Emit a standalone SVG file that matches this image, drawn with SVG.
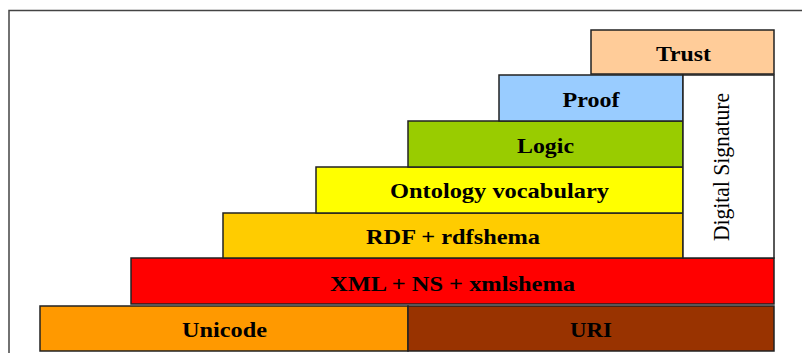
<svg xmlns="http://www.w3.org/2000/svg" width="802" height="353" viewBox="0 0 802 353">
<style>
.b{stroke:#222;stroke-width:1.5}
.t{font-family:"Liberation Serif",serif;font-weight:bold;font-size:21px;fill:#000;text-anchor:middle}
.v{font-family:"Liberation Serif",serif;font-size:24px;fill:#000;text-anchor:middle}
</style>
<rect width="802" height="353" fill="#fff"/>
<path d="M9 360 V10.5 H805" fill="none" stroke="#444" stroke-width="1.5"/>
<g id="unicode"><rect class="b" x="40" y="306" width="368" height="45" fill="#FF9900"/><text class="t" x="224.5" y="337" textLength="85" lengthAdjust="spacingAndGlyphs">Unicode</text></g>
<g id="uri"><rect class="b" x="408" y="306" width="366" height="45" fill="#993300"/><text class="t" x="591" y="337" textLength="42" lengthAdjust="spacingAndGlyphs">URI</text></g>
<g id="xml"><rect class="b" x="131" y="258" width="643" height="46" fill="#FF0000"/><text class="t" x="452.5" y="290.5" textLength="245" lengthAdjust="spacingAndGlyphs">XML + NS + xmlshema</text></g>
<g id="rdf"><rect class="b" x="223" y="213" width="460" height="45" fill="#FFCC00"/><text class="t" x="453" y="244" textLength="174" lengthAdjust="spacingAndGlyphs">RDF + rdfshema</text></g>
<g id="ontology"><rect class="b" x="316" y="167" width="367" height="46" fill="#FFFF00"/><text class="t" x="499.5" y="198" textLength="219" lengthAdjust="spacingAndGlyphs">Ontology vocabulary</text></g>
<g id="logic"><rect class="b" x="408" y="121" width="275" height="46" fill="#99CC00"/><text class="t" x="545.5" y="152.5" textLength="57" lengthAdjust="spacingAndGlyphs">Logic</text></g>
<g id="proof"><rect class="b" x="499" y="75" width="184" height="46" fill="#99CCFF"/><text class="t" x="591" y="106.5" textLength="57" lengthAdjust="spacingAndGlyphs">Proof</text></g>
<g id="signature"><rect class="b" x="683" y="75" width="91" height="183" fill="#FFFFFF"/><text class="v" x="729" y="167" transform="rotate(-90 729 167)" textLength="148" lengthAdjust="spacingAndGlyphs">Digital Signature</text></g>
<g id="trust"><rect class="b" x="591" y="30" width="183" height="44" fill="#FFCC99"/><text class="t" x="683.5" y="61" textLength="55" lengthAdjust="spacingAndGlyphs">Trust</text></g>
<g id="connectors"/>
</svg>
